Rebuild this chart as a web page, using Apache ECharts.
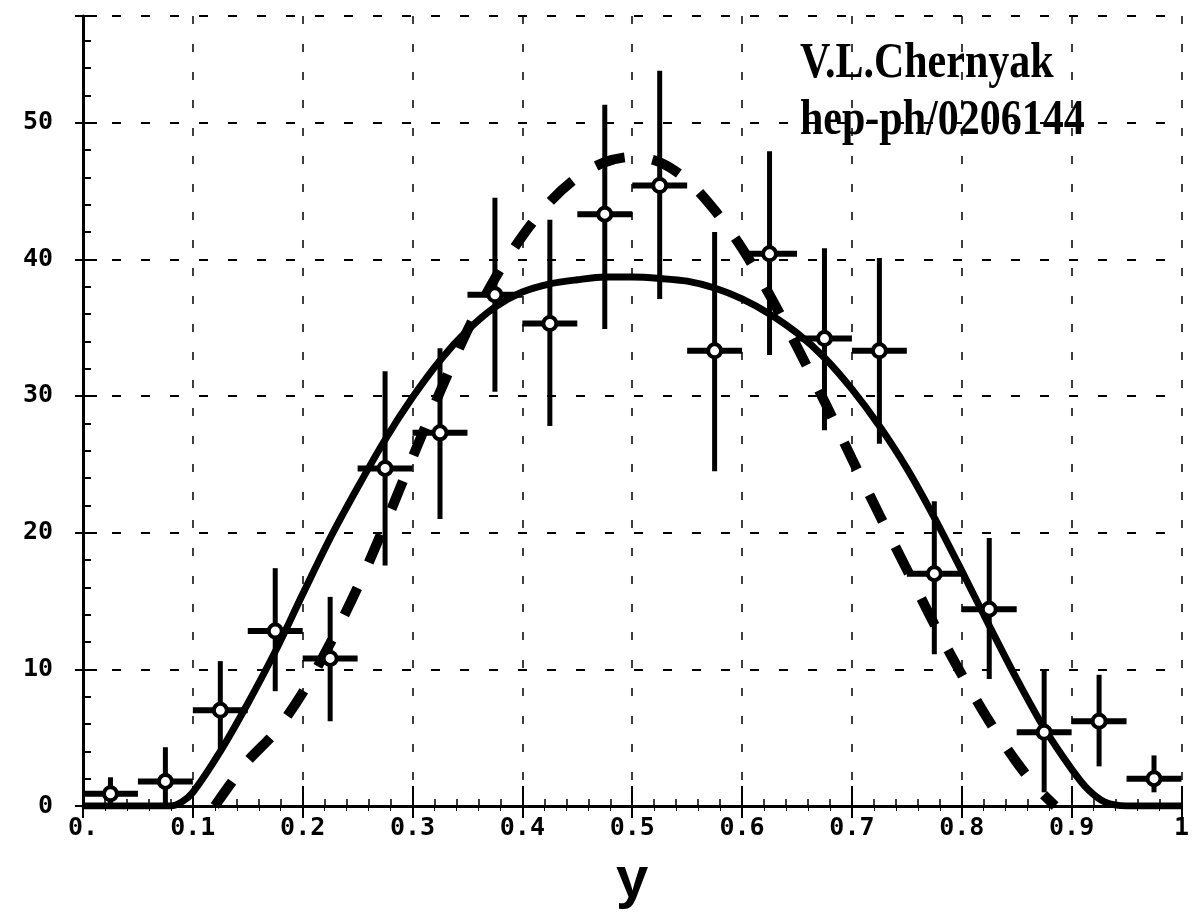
<!DOCTYPE html>
<html>
<head>
<meta charset="utf-8">
<script src="https://cdn.jsdelivr.net/npm/echarts@6/dist/echarts.min.js"></script>
<style>
  html, body { margin: 0; padding: 0; background: #fff; }
  #chart { width: 1192px; height: 920px; }
</style>
</head>
<body>
<div id="chart"></div>
<script>
// measured points with error bars (bins of width 0.05)
const pointX = [0.025, 0.075, 0.125, 0.175, 0.225, 0.275, 0.325, 0.375, 0.425, 0.475,
                0.525, 0.575, 0.625, 0.675, 0.725, 0.775, 0.825, 0.875, 0.925, 0.975];
const pointY = [0.9, 1.8, 7.0, 12.8, 10.8, 24.7, 27.3, 37.4, 35.3, 43.3,
                45.4, 33.3, 40.4, 34.2, 33.3, 17.0, 14.4, 5.4, 6.2, 2.0];
const errLow = [0, 0, 4.2, 8.4, 6.2, 17.6, 21.0, 30.3, 27.8, 34.9,
                37.1, 24.5, 33.0, 27.5, 26.5, 11.1, 9.3, 1.0, 2.9, 1.0];
const errHigh = [2.1, 4.3, 10.6, 17.4, 15.3, 31.8, 33.5, 44.5, 42.9, 51.3,
                 53.8, 42.0, 47.9, 40.8, 40.1, 22.3, 19.6, 9.9, 9.6, 3.7];
const binHalf = 0.025;

// solid curve
const solidX = [0, 0.05, 0.08, 0.09, 0.1, 0.125, 0.15, 0.175, 0.2, 0.225, 0.25, 0.275, 0.3,
                0.325, 0.35, 0.375, 0.4, 0.425, 0.45, 0.475, 0.5, 0.525, 0.55, 0.575, 0.6,
                0.625, 0.65, 0.675, 0.7, 0.725, 0.75, 0.775, 0.8, 0.825, 0.85, 0.875, 0.9,
                0.915, 0.93, 0.95, 1];
const solidY = [0, 0, 0, 0.3, 1.0, 4.0, 7.5, 11.3, 15.5, 19.6, 23.3, 26.8, 29.9,
                32.6, 34.8, 36.5, 37.6, 38.2, 38.5, 38.7, 38.7, 38.6, 38.4, 37.9, 37.1,
                36.0, 34.6, 32.8, 30.5, 27.8, 24.7, 21.1, 17.2, 13.2, 9.3, 5.7, 2.7,
                1.2, 0.3, 0, 0];

// dashed curve
const dashedX = [0.12, 0.135, 0.15, 0.175, 0.2, 0.225, 0.25, 0.275, 0.3, 0.325, 0.35, 0.375,
                 0.4, 0.425, 0.45, 0.475, 0.5, 0.525, 0.55, 0.575, 0.6, 0.625, 0.65, 0.675,
                 0.7, 0.725, 0.75, 0.775, 0.8, 0.825, 0.85, 0.87, 0.885];
const dashedY = [0, 1.7, 3.3, 5.4, 8.3, 11.9, 16.0, 20.6, 25.5, 30.3, 34.8, 38.6,
                 41.7, 44.2, 46.0, 47.1, 47.5, 47.1, 45.8, 43.6, 40.8, 37.4, 33.6, 29.6,
                 25.4, 21.3, 17.3, 13.3, 9.6, 6.2, 3.2, 1.2, 0];

const xTicks = { 0: '0.', 1: '1' };

const chart = echarts.init(document.getElementById('chart'));

const labelFont = {
    fontFamily: '"DejaVu Sans Mono"',
    fontWeight: 'bold',
    fontSize: 25,
    color: '#000'
};

const option = {
    backgroundColor: '#fff',
    animation: false,
    grid: { left: 83, right: 9, top: 16, bottom: 114 },
    xAxis: [
        {
            type: 'value',
            min: 0,
            max: 1,
            interval: 0.1,
            name: 'y',
            nameLocation: 'middle',
            nameGap: 46,
            nameTextStyle: {
                fontFamily: '"Liberation Sans"',
                fontWeight: 'bold',
                fontSize: 58,
                color: '#000'
            },
            axisLine: { lineStyle: { color: '#000', width: 3 } },
            axisTick: { inside: true, length: 20, lineStyle: { color: '#000', width: 2 } },
            minorTick: { show: true, splitNumber: 5, length: 7, lineStyle: { color: '#000', width: 1.5 } },
            splitLine: { show: true, lineStyle: { color: '#000', width: 1.5, type: [8, 20] } },
            axisLabel: Object.assign({
                margin: 10,
                showMaxLabel: true,
                formatter: v => xTicks[v] !== undefined ? xTicks[v] : v.toFixed(1)
            }, labelFont)
        },
        {
            type: 'value',
            position: 'top',
            min: 0,
            max: 1,
            interval: 0.1,
            axisLine: { show: true, lineStyle: { color: '#000', width: 2 } },
            axisTick: { inside: true, length: 12, lineStyle: { color: '#000', width: 2 } },
            minorTick: { show: true, splitNumber: 5, length: 5, lineStyle: { color: '#000', width: 1 } },
            axisLabel: { show: false },
            splitLine: { show: false }
        }
    ],
    yAxis: [
        {
            type: 'value',
            min: 0,
            max: 57.8,
            interval: 10,
            axisLine: { show: true, lineStyle: { color: '#000', width: 3 } },
            axisTick: { inside: true, length: 14, lineStyle: { color: '#000', width: 2 } },
            minorTick: { show: true, splitNumber: 5, length: 8, lineStyle: { color: '#000', width: 2 } },
            splitLine: { show: true, lineStyle: { color: '#000', width: 2, type: [9, 20] } },
            axisLabel: Object.assign({ margin: 30, showMaxLabel: false }, labelFont)
        },
        {
            type: 'value',
            position: 'right',
            min: 0,
            max: 57.8,
            interval: 10,
            axisLine: { show: true, lineStyle: { color: '#000', width: 2 } },
            axisTick: { inside: true, length: 8, lineStyle: { color: '#000', width: 2 } },
            axisLabel: { show: false },
            splitLine: { show: false }
        }
    ],
    graphic: [
        {
            // the scanned lettering is a little taller than plain Times
            type: 'text',
            x: 800,
            y: 36,
            scaleY: 1.2,
            z: 100,
            style: {
                text: 'V.L.Chernyak\nhep-ph/0206144',
                font: 'bold 42px "Liberation Serif"',
                lineHeight: 47,
                fill: '#000'
            }
        }
    ],
    series: [
        {
            name: 'solid',
            type: 'line',
            smooth: 0.3,
            symbol: 'none',
            lineStyle: { color: '#000', width: 7 },
            data: solidX.map((x, i) => [x, solidY[i]]),
            z: 3
        },
        {
            name: 'dashed',
            type: 'line',
            smooth: 0.3,
            symbol: 'none',
            lineStyle: { color: '#000', width: 10, type: [30, 28], cap: 'butt' },
            data: dashedX.map((x, i) => [x, dashedY[i]]),
            z: 3
        },
        {
            name: 'data',
            type: 'custom',
            z: 5,
            encode: { x: 0, y: 1 },
            data: pointX.map((x, i) => [x, pointY[i], errLow[i], errHigh[i]]),
            renderItem: function (params, api) {
                const x = api.value(0);
                const y = api.value(1);
                const c = api.coord([x, y]);
                const lo = api.coord([x, api.value(2)]);
                const hi = api.coord([x, api.value(3)]);
                const l = api.coord([x - binHalf, y]);
                const r = api.coord([x + binHalf, y]);
                return {
                    type: 'group',
                    children: [
                        {
                            type: 'line',
                            shape: { x1: lo[0], y1: lo[1], x2: hi[0], y2: hi[1] },
                            style: { stroke: '#000', lineWidth: 5 }
                        },
                        {
                            type: 'line',
                            shape: { x1: l[0], y1: l[1], x2: r[0], y2: r[1] },
                            style: { stroke: '#000', lineWidth: 6 }
                        },
                        {
                            type: 'circle',
                            shape: { cx: c[0], cy: c[1], r: 6.5 },
                            style: { fill: '#fff', stroke: '#000', lineWidth: 4 }
                        }
                    ]
                };
            }
        }
    ]
};

chart.setOption(option);
</script>
</body>
</html>
